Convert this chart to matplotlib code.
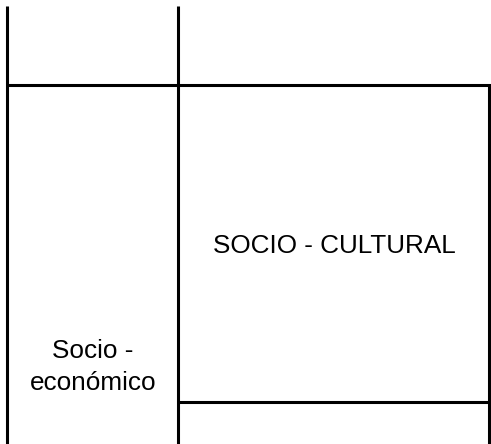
import matplotlib
matplotlib.use("Agg")
import matplotlib.pyplot as plt

W, H = 491, 444
big_label = "SOCIO - CULTURAL"
small_label_lines = ["Socio -", "económico"]

fig = plt.figure(figsize=(W / 100, H / 100), dpi=100)
ax = fig.add_axes([0, 0, 1, 1])
ax.set_xlim(0, W)
ax.set_ylim(H, 0)
ax.axis("off")

lw = 2.2
kw = dict(color="black", linewidth=lw, solid_capstyle="butt")
ax.plot([7, 7], [6, H], **kw)
ax.plot([178.5, 178.5], [6, H], **kw)
ax.plot([7, W], [85, 85], **kw)
ax.plot([489.5, 489.5], [85, H], **kw)
ax.plot([178.5, 489.5], [402, 402], **kw)

font = dict(family=["Liberation Sans", "DejaVu Sans"], fontsize=18.8, color="black")
ax.text(334, 253, big_label, ha="center", va="baseline", **font)
ax.text(93, 358, small_label_lines[0], ha="center", va="baseline", **font)
ax.text(93, 390, small_label_lines[1], ha="center", va="baseline", **font)

fig.savefig("out.png", dpi=100)
